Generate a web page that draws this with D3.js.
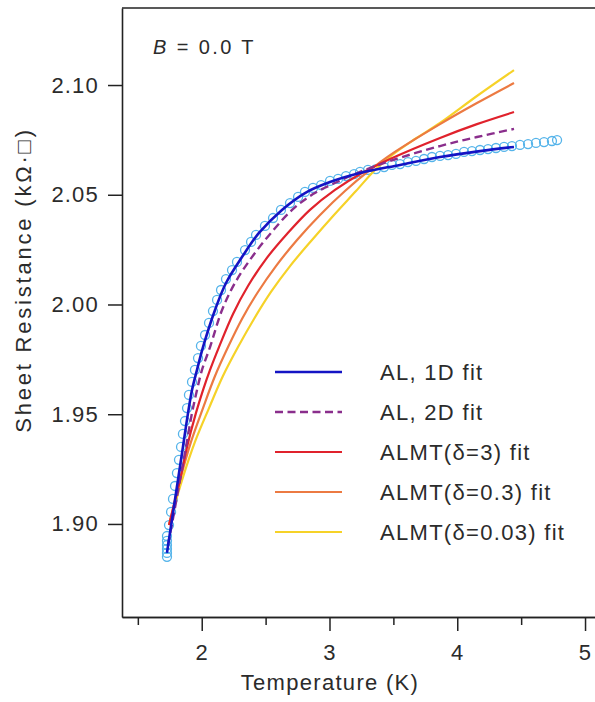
<!DOCTYPE html>
<html>
<head>
<meta charset="utf-8">
<script src="https://cdn.jsdelivr.net/npm/d3@7"></script>
<style>
  body { margin: 0; background: #fff; }
  text { font-family: "Liberation Sans", Arial, sans-serif; fill: #2b2b2b; }
</style>
</head>
<body>
<div id="wrapper"></div>
<script>
// measured data (Temperature in K, sheet resistance in kOhm)
const dataTemp = [
  1.728, 1.728, 1.728, 1.728, 1.728, 1.728,
  1.744, 1.760, 1.775, 1.791, 1.806, 1.822, 1.838, 1.853, 1.869, 1.885, 1.900,
  1.924, 1.947, 1.971, 1.994, 2.026, 2.057, 2.088, 2.120, 2.151, 2.190, 2.237,
  2.276, 2.339, 2.386, 2.425, 2.495, 2.558, 2.620, 2.691, 2.754, 2.808, 2.871,
  2.934, 3.004, 3.067, 3.129, 3.192, 3.239, 3.301, 3.364, 3.427, 3.489, 3.552,
  3.614, 3.677, 3.740, 3.802, 3.865, 3.928, 3.990, 4.053, 4.115, 4.178, 4.241,
  4.303, 4.366, 4.428, 4.491, 4.554, 4.616, 4.679, 4.741, 4.781
];
const dataRes = [
  1.8850, 1.8868, 1.8886, 1.8904, 1.8923, 1.8945,
  1.8995, 1.9055, 1.9114, 1.9173, 1.9232, 1.9292, 1.9351, 1.9410, 1.9469, 1.9528, 1.9588,
  1.9647, 1.9702, 1.9756, 1.9811, 1.9861, 1.9916, 1.9970, 2.0021, 2.0066, 2.0116, 2.0157,
  2.0194, 2.0248, 2.0285, 2.0317, 2.0358, 2.0394, 2.0431, 2.0462, 2.0490, 2.0513, 2.0531,
  2.0544, 2.0563, 2.0572, 2.0585, 2.0594, 2.0604, 2.0613, 2.0617, 2.0626, 2.0636, 2.0640,
  2.0649, 2.0654, 2.0663, 2.0672, 2.0677, 2.0681, 2.0686, 2.0695, 2.0699, 2.0704, 2.0708,
  2.0713, 2.0718, 2.0722, 2.0727, 2.0731, 2.0736, 2.0740, 2.0745, 2.0749
];

// fit curves
const al1dTemp = [1.728, 1.775, 1.814, 1.853, 1.893, 1.924, 1.963, 2.010, 2.104, 2.190,
  2.315, 2.448, 2.628, 2.808, 3.004, 3.239, 3.552, 3.865, 4.178, 4.444];
const al1dRes = [1.8868, 1.9050, 1.9200, 1.9351, 1.9506, 1.9610, 1.9702, 1.9806, 1.9975, 2.0098,
  2.0216, 2.0326, 2.0431, 2.0508, 2.0558, 2.0599, 2.0636, 2.0672, 2.0699, 2.0718];

const al2dTemp = [1.736, 1.783, 1.830, 1.877, 1.924, 1.963, 2.002, 2.065, 2.159, 2.260,
  2.393, 2.542, 2.707, 2.871, 3.059, 3.239, 3.474, 3.865, 4.154, 4.444];
const al2dRes = [1.8904, 1.9050, 1.9200, 1.9351, 1.9506, 1.9610, 1.9702, 1.9806, 1.9975, 2.0098,
  2.0216, 2.0326, 2.0431, 2.0503, 2.0558, 2.0604, 2.0654, 2.0722, 2.0763, 2.0800];

const almt3Temp = [1.744, 1.830, 1.885, 1.955, 2.010, 2.065, 2.135, 2.245, 2.362, 2.503,
  2.667, 2.847, 3.043, 3.254, 3.474, 3.865, 4.154, 4.444];
const almt3Res = [1.8995, 1.9200, 1.9351, 1.9506, 1.9610, 1.9702, 1.9806, 1.9957, 2.0084, 2.0207,
  2.0321, 2.0431, 2.0522, 2.0599, 2.0663, 2.0759, 2.0822, 2.0877];

const almt03Temp = [1.744, 1.830, 1.916, 2.010, 2.104, 2.206, 2.315, 2.440, 2.581, 2.746,
  2.926, 3.121, 3.317, 3.474, 3.865, 4.154, 4.444];
const almt03Res = [1.8995, 1.9200, 1.9374, 1.9528, 1.9674, 1.9806, 1.9934, 2.0057, 2.0175, 2.0294,
  2.0408, 2.0517, 2.0613, 2.0681, 2.0822, 2.0918, 2.1009];

const almt003Temp = [1.744, 1.846, 1.947, 2.057, 2.166, 2.284, 2.409, 2.542, 2.691, 2.863,
  3.035, 3.207, 3.356, 3.489, 3.669, 3.865, 4.154, 4.444];
const almt003Res = [1.8995, 1.9200, 1.9374, 1.9528, 1.9674, 1.9806, 1.9934, 2.0057, 2.0175, 2.0294,
  2.0408, 2.0517, 2.0613, 2.0681, 2.0754, 2.0827, 2.0950, 2.1068];

const xTicks = [2, 3, 4, 5];
const xMinorTicks = [1.5, 2.5, 3.5, 4.5];
const yTicks = [1.90, 1.95, 2.00, 2.05, 2.10];

const fitLabels = ["AL, 1D fit", "AL, 2D fit", "ALMT(\u03b4=3) fit", "ALMT(\u03b4=0.3) fit", "ALMT(\u03b4=0.03) fit"];

function drawChart() {
  const toPoints = (ts, rs) => d3.zip(ts, rs).map(([t, r]) => ({ t, r }));

  const fits = [
    { label: fitLabels[0], color: "#1414c4", dash: null, width: 2.6, points: toPoints(al1dTemp, al1dRes) },
    { label: fitLabels[1], color: "#8a2e8c", dash: "8,4.5", width: 2.4, points: toPoints(al2dTemp, al2dRes) },
    { label: fitLabels[2], color: "#e0222c", dash: null, width: 2.2, points: toPoints(almt3Temp, almt3Res) },
    { label: fitLabels[3], color: "#ec7a42", dash: null, width: 2.2, points: toPoints(almt03Temp, almt03Res) },
    { label: fitLabels[4], color: "#f6d228", dash: null, width: 2.2, points: toPoints(almt003Temp, almt003Res) },
  ];
  const dataset = toPoints(dataTemp, dataRes);

  let dimensions = {
    width: 595,
    height: 702,
    margin: { top: 8, right: 0, bottom: 85, left: 122 }
  };
  dimensions.boundedWidth = dimensions.width - dimensions.margin.left - dimensions.margin.right;
  dimensions.boundedHeight = dimensions.height - dimensions.margin.top - dimensions.margin.bottom;

  const wrapper = d3.select("#wrapper")
    .append("svg")
    .attr("width", dimensions.width)
    .attr("height", dimensions.height);

  const bounds = wrapper.append("g")
    .attr("transform", `translate(${dimensions.margin.left},${dimensions.margin.top})`);

  const xScale = d3.scaleLinear()
    .domain([1.376, 5.078])
    .range([0, dimensions.boundedWidth]);

  const yScale = d3.scaleLinear()
    .domain([1.8576, 2.1351])
    .range([dimensions.boundedHeight, 0]);

  // data circles
  bounds.append("g")
    .selectAll("circle")
    .data(dataset)
    .join("circle")
    .attr("cx", d => xScale(d.t))
    .attr("cy", d => yScale(d.r))
    .attr("r", 4.5)
    .attr("fill", "none")
    .attr("stroke", "#55b4ea")
    .attr("stroke-width", 1.3);

  const lineGenerator = d3.line()
    .x(d => xScale(d.t))
    .y(d => yScale(d.r))
    .curve(d3.curveCatmullRom.alpha(0.5));

  // draw yellow first, blue last
  bounds.append("g")
    .selectAll("path")
    .data(fits.slice().reverse())
    .join("path")
    .attr("d", d => lineGenerator(d.points))
    .attr("fill", "none")
    .attr("stroke", d => d.color)
    .attr("stroke-width", d => d.width)
    .attr("stroke-dasharray", d => d.dash)
    .attr("stroke-linecap", "butt");

  // axes
  const axisStyle = g => {
    g.select(".domain").attr("stroke", "#222").attr("stroke-width", 1.6);
    g.selectAll(".tick line").attr("stroke", "#222").attr("stroke-width", 1.5);
    g.selectAll(".tick text")
      .attr("fill", "#2b2b2b")
      .style("font-family", "'Liberation Sans', Arial, sans-serif")
      .style("font-size", "22px")
      .style("letter-spacing", "1.2px");
  };

  const yAxisGenerator = d3.axisLeft(yScale)
    .tickValues(yTicks)
    .tickFormat(d3.format(".2f"))
    .tickSize(14)
    .tickSizeOuter(0)
    .tickPadding(9);
  bounds.append("g").call(yAxisGenerator).call(axisStyle);

  const xMinorGenerator = d3.axisBottom(xScale)
    .tickValues(xMinorTicks)
    .tickFormat("")
    .tickSize(8)
    .tickSizeOuter(0);
  bounds.append("g")
    .attr("transform", `translate(0,${dimensions.boundedHeight})`)
    .call(xMinorGenerator)
    .call(axisStyle);

  const xAxisGenerator = d3.axisBottom(xScale)
    .tickValues(xTicks)
    .tickFormat(d3.format("d"))
    .tickSize(14)
    .tickSizeOuter(0)
    .tickPadding(13);
  bounds.append("g")
    .attr("transform", `translate(0,${dimensions.boundedHeight})`)
    .call(xAxisGenerator)
    .call(axisStyle);

  // top frame line
  bounds.append("line")
    .attr("x1", 0)
    .attr("x2", dimensions.boundedWidth)
    .attr("y1", 0)
    .attr("y2", 0)
    .attr("stroke", "#222")
    .attr("stroke-width", 1.6);

  // axis titles
  wrapper.append("text")
    .attr("x", 330)
    .attr("y", 690)
    .attr("text-anchor", "middle")
    .style("font-size", "22px")
    .style("letter-spacing", "1.3px")
    .text("Temperature (K)");

  wrapper.append("text")
    .attr("transform", "translate(31,280) rotate(-90)")
    .attr("text-anchor", "middle")
    .style("font-size", "22px")
    .style("letter-spacing", "2.8px")
    .text("Sheet Resistance (k\u03a9\u00b7\u25a1)");

  // field annotation
  const fieldLabel = wrapper.append("text")
    .attr("x", 153)
    .attr("y", 54)
    .style("font-size", "20px")
    .style("letter-spacing", "2.4px");
  fieldLabel.append("tspan").style("font-style", "italic").text("B");
  fieldLabel.append("tspan").text(" = 0.0 T");

  // legend
  const legend = wrapper.append("g")
    .attr("transform", "translate(275,372)");
  const legendRows = legend.selectAll("g")
    .data(fits)
    .join("g")
    .attr("transform", (d, i) => `translate(0,${i * 40})`);
  legendRows.append("line")
    .attr("x1", 0)
    .attr("x2", 67)
    .attr("stroke", d => d.color)
    .attr("stroke-width", d => d.width)
    .attr("stroke-dasharray", d => d.dash);
  legendRows.append("text")
    .attr("x", 105)
    .attr("y", 7.5)
    .style("font-size", "22px")
    .style("letter-spacing", "1.3px")
    .text(d => d.label);
}

drawChart();
</script>
</body>
</html>
